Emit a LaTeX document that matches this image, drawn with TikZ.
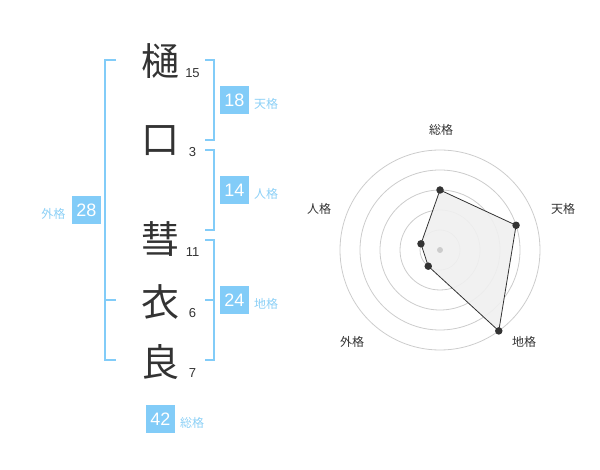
\documentclass[tikz,border=0pt]{standalone}
\usepackage{fontspec}
\setmainfont{Liberation Sans}
\newfontfamily\cjk{Noto Sans CJK JP}
\definecolor{skyb}{RGB}{130,204,248}
\definecolor{skylab}{RGB}{140,208,246}
\definecolor{ink}{RGB}{51,51,51}
\definecolor{ringc}{RGB}{204,204,204}
\definecolor{polyfill}{RGB}{240,240,240}
\begin{document}
\begin{tikzpicture}[x=1pt,y=-1pt,
  kanji/.style={inner sep=0pt,text=ink,font=\cjk\fontsize{38}{38}\selectfont},
  strokes/.style={inner sep=0pt,text=ink,font=\fontsize{13}{13}\selectfont},
  valbox/.style={fill=skyb,text=white,minimum width=29pt,minimum height=28pt,inner sep=0pt,font=\fontsize{18}{18}\selectfont},
  kakulab/.style={inner sep=0pt,text=skylab,font=\cjk\fontsize{12}{12}\selectfont},
  bracket/.style={draw=skyb,line width=2pt},
  ring/.style={draw=ringc,line width=0.8pt},
  radlab/.style={inner sep=0pt,text=ink,font=\cjk\fontsize{12}{12}\selectfont},
  dot/.style={circle,fill=ink,inner sep=0pt,minimum size=7.5pt}]
\useasboundingbox (0,0) rectangle (600,470);
% characters
\node[kanji] (k1) at (160,61) {樋};
\node[kanji] (k2) at (160,141) {口};
\node[kanji] (k3) at (160,239) {彗};
\node[kanji] (k4) at (160,302) {衣};
\node[kanji] (k5) at (160,362) {良};
\node[strokes] (s1) at (192.5,73) {15};
\node[strokes] (s2) at (192.5,152) {3};
\node[strokes] (s3) at (192.5,252.5) {11};
\node[strokes] (s4) at (192.5,313) {6};
\node[strokes] (s5) at (192.5,373) {7};
% brackets
\draw[bracket] (116,60) -- (105,60) -- (105,360) -- (116,360);
\draw[bracket] (105,300) -- (116,300);
\draw[bracket] (205,60) -- (214,60) -- (214,140) -- (205,140);
\draw[bracket] (205,150) -- (214,150) -- (214,230) -- (205,230);
\draw[bracket] (205,240) -- (214,240) -- (214,360) -- (205,360);
\draw[bracket] (205,300) -- (214,300);
% value boxes
\node[valbox] (ten) at (234.5,100) {18};
\node[kakulab] (tenl) at (266,104) {天格};
\node[valbox] (jin) at (234.5,190.5) {14};
\node[kakulab] (jinl) at (266,194) {人格};
\node[valbox] (chi) at (234.5,300.5) {24};
\node[kakulab] (chil) at (266,304) {地格};
\node[valbox] (gai) at (86.5,210) {28};
\node[kakulab] (gail) at (53.5,214) {外格};
\node[valbox] (sou) at (160.5,419) {42};
\node[kakulab] (soul) at (192,422.5) {総格};
% radar
\coordinate (c) at (440,250);
\foreach \r in {20,40,60,80,100} \draw[ring] (c) circle (\r);
\coordinate (p1) at ([shift={(-90:60)}]c);
\coordinate (p2) at ([shift={(-18:80)}]c);
\coordinate (p3) at ([shift={(54:100)}]c);
\coordinate (p4) at ([shift={(126:20)}]c);
\coordinate (p5) at ([shift={(198:20)}]c);
\fill[polyfill,opacity=0.9] (p1) -- (p2) -- (p3) -- (p4) -- (p5) -- cycle;
\fill[ringc] (c) circle (3);
\draw[ink,line width=0.8pt] (p1) -- (p2) -- (p3) -- (p4) -- (p5) -- cycle;
\foreach \p in {p1,p2,p3,p4,p5} \node[dot] at (\p) {};
\node[radlab] (r1) at (441,130) {総格};
\node[radlab] (r2) at (563,209) {天格};
\node[radlab] (r3) at (524,342) {地格};
\node[radlab] (r4) at (352,342) {外格};
\node[radlab] (r5) at (319,209) {人格};
\end{tikzpicture}
\end{document}
